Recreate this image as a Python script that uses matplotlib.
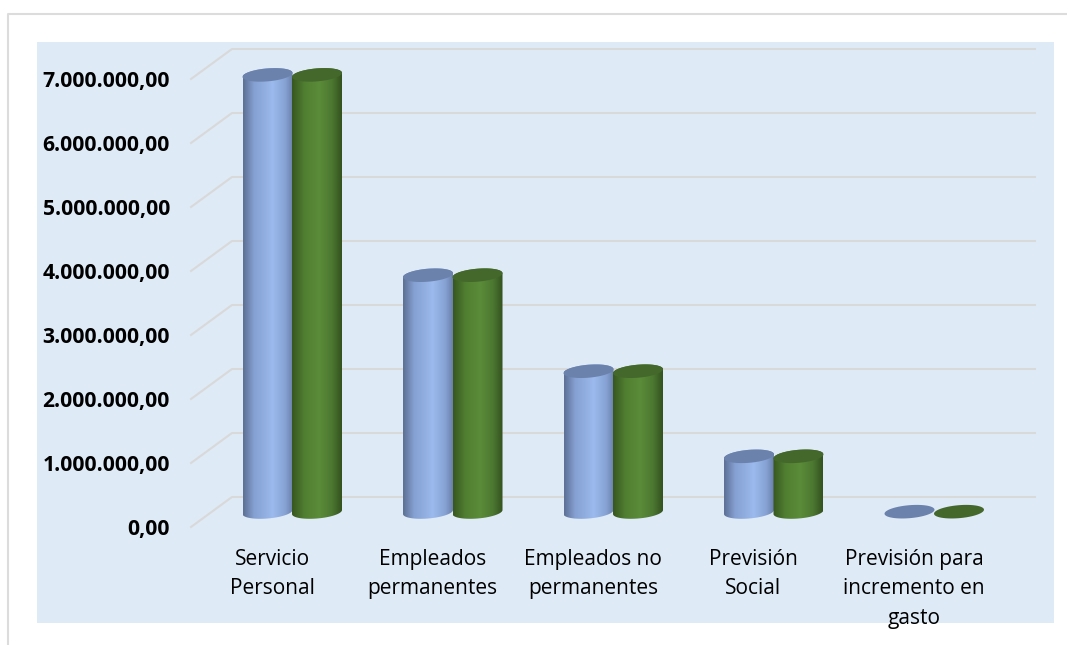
import matplotlib

matplotlib.use("Agg")
import matplotlib.pyplot as plt
import numpy as np
from matplotlib.colors import LinearSegmentedColormap
from matplotlib.lines import Line2D
from matplotlib.patches import Polygon

categories = [
    "Servicio\nPersonal",
    "Empleados\npermanentes",
    "Empleados no\npermanentes",
    "Previsión\nSocial",
    "Previsión para\nincremento en\ngasto",
]
series_a = [6830000, 3700000, 2200000, 870000, 5000]
series_b = [6830000, 3700000, 2200000, 870000, 5000]
y_ticks = [0, 1000000, 2000000, 3000000, 4000000, 5000000, 6000000, 7000000]
y_labels = [
    "0,00",
    "1.000.000,00",
    "2.000.000,00",
    "3.000.000,00",
    "4.000.000,00",
    "5.000.000,00",
    "6.000.000,00",
    "7.000.000,00",
]

W, H = 1067, 645
L, R, T, B = 37, 1054, 42, 623
PX_X = 160.5  # px per category
PX_Y = 64 / 1e6  # px per unit
X0 = 292  # px of first category centre
Y0 = 527  # px of value 0 on the front edge

CYL_W = 50 / PX_X
ELL_H = 6.5 / PX_Y  # half height of the top ellipse
TILT = 2 / PX_Y
BASE = 15 / PX_Y  # bars stand a bit behind the front edge
BACK_X = 41 / PX_X
BACK_Y = 30 / PX_Y

blue_cmap = LinearSegmentedColormap.from_list(
    "blue",
    [(0, "#5d7094"), (0.22, "#85a0d2"), (0.6, "#9cbaed"), (0.85, "#86a2d4"), (1, "#6a80aa")],
)
green_cmap = LinearSegmentedColormap.from_list(
    "green",
    [(0, "#38571f"), (0.25, "#517f32"), (0.55, "#5b8c39"), (0.8, "#4c7831"), (1, "#34521e")],
)
gradient = np.linspace(0, 1, 128).reshape(1, -1)


def ellipse(cx, cy, start=0, stop=2 * np.pi):
    t = np.linspace(start, stop, 60)
    xs = cx + CYL_W / 2 * np.cos(t)
    ys = cy + ELL_H * np.sin(t) + TILT * np.cos(t)
    return np.column_stack([xs, ys])


def cylinder(ax, cx, value, cmap, top_color, z):
    # body: top arc is covered by the cap, bottom arc is the visible base
    if value > 20000:
        bottom = ellipse(cx, BASE, np.pi, 2 * np.pi)
        top = ellipse(cx, BASE + value, 0, np.pi)
        body = Polygon(
            np.vstack([bottom, top]),
            closed=True,
            transform=ax.transData,
            fc="none",
            ec="none",
        )
        ax.add_patch(body)
        img = ax.imshow(
            gradient,
            cmap=cmap,
            aspect="auto",
            extent=(cx - CYL_W / 2, cx + CYL_W / 2, BASE - 2 * ELL_H, BASE + value + 2 * ELL_H),
            zorder=z,
            interpolation="bilinear",
        )
        img.set_clip_path(body)
    cap = Polygon(ellipse(cx, BASE + value), closed=True, fc=top_color, ec="none", zorder=z + 0.1)
    ax.add_patch(cap)


fig = plt.figure(figsize=(W / 100, H / 100), dpi=100, facecolor="white")
ax = fig.add_axes([L / W, 1 - B / H, (R - L) / W, (B - T) / H])
ax.set_facecolor("#deeaf6")
for spine in ax.spines.values():
    spine.set_visible(False)

# gridlines with the slanted side wall part
for v in y_ticks:
    ax.plot(
        [(191 - X0) / PX_X, (191 - X0) / PX_X + BACK_X, (1035 - X0) / PX_X],
        [v, v + BACK_Y, v + BACK_Y],
        color="#d9d9d9",
        lw=1.5,
        zorder=1,
        solid_joinstyle="miter",
    )

x = np.arange(len(categories))
for i in x:
    cylinder(ax, i - CYL_W / 2 + 0.5 / PX_X, series_a[i], blue_cmap, "#6b82ad", 2)
    cylinder(ax, i + CYL_W / 2 + 0 / PX_X, series_b[i], green_cmap, "#44682b", 3)

ax.set_xlim((L - X0) / PX_X, (R - X0) / PX_X)
ax.set_ylim((Y0 - B) / PX_Y, (Y0 - T) / PX_Y)

ax.set_yticks(y_ticks)
ax.set_yticklabels(y_labels, fontfamily="Open Sans", fontweight="bold", fontsize=15.2, color="black")
ax.tick_params(axis="y", length=0, pad=-(170 - L) * 0.72)

ax.set_xticks(x - 20 / PX_X)
ax.set_xticklabels(categories, fontfamily="Open Sans", fontsize=15, color="black", linespacing=1.53)
ax.tick_params(axis="x", length=0, pad=-(B - 549) * 0.72)

# outer chart frame
fig.add_artist(Line2D([8 / W, 8 / W, 1], [0, 1 - 14 / H, 1 - 14 / H], color="#dcdcdc", lw=1.5))

fig.savefig("out.png", dpi=100)
